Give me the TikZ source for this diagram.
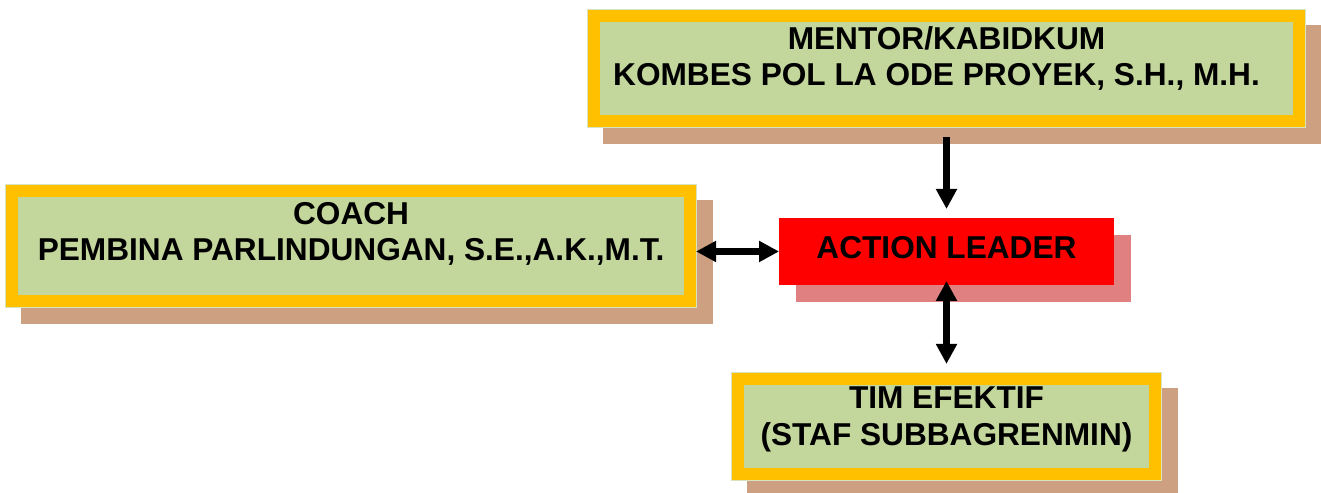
\documentclass[tikz,border=0pt]{standalone}
\usepackage{fontspec}
\setmainfont{Liberation Sans}
\usetikzlibrary{positioning, arrows.meta, shadows}

\definecolor{boxyellow}{RGB}{255,192,0}
\definecolor{boxgreen}{RGB}{195,214,155}
\definecolor{boxedge}{RGB}{215,228,189}
\definecolor{shadowtan}{RGB}{204,160,128}
\definecolor{leaderred}{RGB}{255,0,0}
\definecolor{shadowpink}{RGB}{224,128,128}

\begin{document}
\begin{tikzpicture}[
  x=0.02cm, y=-0.02cm,
  font=\bfseries\fontsize{18}{21}\selectfont,
  framed/.style={rectangle, fill=boxgreen, draw=boxyellow, line width=0.24cm,
    inner sep=0pt, outer sep=0pt, align=center,
    drop shadow={shadow xshift=0.32cm, shadow yshift=-0.32cm, fill=shadowtan,
      draw=shadowtan, line width=0.28cm, opacity=1},
    preaction={draw=boxedge, line width=0.28cm}},
  leaderbox/.style={rectangle, fill=leaderred, inner sep=0pt, outer sep=0pt, align=center,
    drop shadow={shadow xshift=0.34cm, shadow yshift=-0.34cm, fill=shadowpink, opacity=1}},
  arrow/.style={-{Triangle[length=0.4cm, width=0.4cm]}, line width=0.14cm},
  dblarrow/.style={{Triangle[length=0.4cm, width=0.4cm]}-{Triangle[length=0.4cm, width=0.4cm]}, line width=0.14cm},
]
\useasboundingbox (0,0) rectangle (1321,493);

% Boxes
\node[framed, minimum width=14.1cm, minimum height=2.1cm, text depth=0.5cm] (mentor) at (946.5,68.5)
  {MENTOR/KABIDKUM\\KOMBES POL LA ODE PROYEK, S.H., M.H.\hspace*{0.4cm}};
\node[leaderbox, minimum width=6.7cm, minimum height=1.34cm, text depth=0.18cm, below=1.94cm of mentor] (leader)
  {ACTION LEADER};
\node[framed, minimum width=8.36cm, minimum height=1.9cm, text depth=0.41cm, below=1.88cm of leader] (tim)
  {TIM EFEKTIF\\(STAF SUBBAGRENMIN)};
\node[framed, minimum width=13.56cm, minimum height=2.2cm, text depth=0.58cm, left=1.78cm of leader, yshift=0.11cm] (coach)
  {COACH\\PEMBINA PARLINDUNGAN, S.E.,A.K.,M.T.};

% Connections
\draw[arrow, shorten <=0.32cm, shorten >=0.18cm] (mentor.south -| leader.north) -- (leader.north);
\draw[dblarrow, shorten <=0.12cm] (coach.east |- leader.west) -- (leader.west);
\draw[dblarrow, shorten <=-0.08cm, shorten >=0.3cm] (leader.south) -- (tim.north);

\end{tikzpicture}
\end{document}
